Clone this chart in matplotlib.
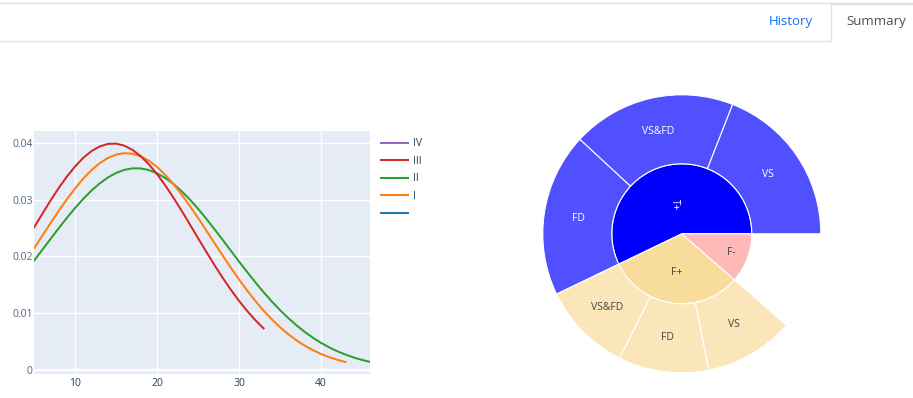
import matplotlib.pyplot as plt
from matplotlib.lines import Line2D
import numpy as np

plt.rcParams['font.family'] = ['Open Sans', 'DejaVu Sans']

# density curves
x_iii = [5, 6, 7, 8, 9, 10, 11, 12, 13, 14, 15, 16, 17, 18, 19, 20, 21, 22, 23, 24,
         25, 26, 27, 28, 29, 30, 31, 32, 33]
y_iii = [0.02517, 0.02757, 0.02989, 0.03209, 0.03411, 0.03589, 0.03740, 0.03857, 0.03939,
         0.03983, 0.03987, 0.03951, 0.03877, 0.03766, 0.03622, 0.03449, 0.03251, 0.03034,
         0.02804, 0.02565, 0.02323, 0.02084, 0.01850, 0.01626, 0.01415, 0.01219, 0.01040,
         0.00878, 0.00734]

x_ii = [5, 6, 7, 8, 9, 10, 11, 12, 13, 14, 15, 16, 17, 18, 19, 20, 21, 22, 23, 24, 25,
        26, 27, 28, 29, 30, 31, 32, 33, 34, 35, 36, 37, 38, 39, 40, 41, 42, 43, 44, 45, 46]
y_ii = [0.01931, 0.02122, 0.02313, 0.02501, 0.02684, 0.02857, 0.03018, 0.03163, 0.03288,
        0.03392, 0.03472, 0.03526, 0.03552, 0.03551, 0.03522, 0.03465, 0.03383, 0.03277,
        0.03149, 0.03003, 0.02840, 0.02666, 0.02482, 0.02294, 0.02102, 0.01912, 0.01726,
        0.01545, 0.01372, 0.01209, 0.01057, 0.00917, 0.00790, 0.00674, 0.00571, 0.00480,
        0.00400, 0.00331, 0.00272, 0.00221, 0.00179, 0.00144]

x_i = [5, 6, 7, 8, 9, 10, 11, 12, 13, 14, 15, 16, 17, 18, 19, 20, 21, 22, 23, 24, 25,
       26, 27, 28, 29, 30, 31, 32, 33, 34, 35, 36, 37, 38, 39, 40, 41, 42, 43]
y_i = [0.02149, 0.02370, 0.02591, 0.02806, 0.03011, 0.03202, 0.03375, 0.03523, 0.03645,
       0.03736, 0.03795, 0.03819, 0.03809, 0.03763, 0.03685, 0.03575, 0.03437, 0.03274,
       0.03090, 0.02890, 0.02678, 0.02459, 0.02237, 0.02017, 0.01802, 0.01595, 0.01399,
       0.01216, 0.01047, 0.00893, 0.00755, 0.00633, 0.00525, 0.00432, 0.00352, 0.00284,
       0.00227, 0.00180, 0.00142]

x_iv, y_iv = [], []
x_blank, y_blank = [], []

y_ticks = [0, 0.01, 0.02, 0.03, 0.04]
y_tick_labels = ["0", "0.01", "0.02", "0.03", "0.04"]
x_ticks = [10, 20, 30, 40]

# sunburst
inner_labels = ["T+", "F+", "F-"]
inner_values = [20, 11, 4]
outer_labels = ["VS", "VS&FD", "FD", "VS&FD", "FD", "VS", ""]
outer_values = [6.67, 6.67, 6.66, 3.67, 3.67, 3.66, 4]

fig = plt.figure(figsize=(9.13, 3.98), dpi=100)

# tab header
line_col = "#dee2e6"
fig.add_artist(Line2D([0, 1], [1 - 2.5 / 398, 1 - 2.5 / 398], color=line_col, lw=1))
fig.add_artist(Line2D([0, 831 / 913], [1 - 40.5 / 398, 1 - 40.5 / 398], color=line_col, lw=1))
fig.add_artist(Line2D([831 / 913, 831 / 913], [1 - 4 / 398, 1 - 40.5 / 398], color=line_col, lw=1))
fig.add_artist(Line2D([831 / 913, 1], [1 - 4 / 398, 1 - 4 / 398], color=line_col, lw=1))
fig.text(791 / 913, 1 - 21 / 398, "History", color="#0d6efd", fontsize=9.5,
         ha="center", va="center")
fig.text(876 / 913, 1 - 21 / 398, "Summary", color="#495057", fontsize=9.5,
         ha="center", va="center")

# line chart
ax = fig.add_axes([34.3 / 913, 24 / 398, 335.7 / 913, 243 / 398])
ax.set_facecolor("#E5ECF6")
ax.plot(x_iv, y_iv, color="#9467bd", lw=1.45, label="IV")
ax.plot(x_iii, y_iii, color="#d62728", lw=1.45, label="III", zorder=4)
ax.plot(x_ii, y_ii, color="#2ca02c", lw=1.45, label="II", zorder=3)
ax.plot(x_i, y_i, color="#ff7f0e", lw=1.45, label="I", zorder=3.5)
ax.plot(x_blank, y_blank, color="#1f77b4", lw=1.45, label=" ")
ax.set_xlim(5, 46)
ax.set_ylim(-0.0007, 0.0421)
ax.set_xticks(x_ticks)
ax.set_yticks(y_ticks)
ax.set_yticklabels(y_tick_labels)
ax.grid(True, color="white", lw=1)
ax.axhline(0, color="white", lw=1.6, zorder=1)
ax.set_axisbelow(True)
for s in ax.spines.values():
    s.set_visible(False)
ax.tick_params(length=0, labelsize=7.5, colors="#2a3f5f")
ax.tick_params(axis="y", pad=1.2, labelcolor="#506784")
ax.tick_params(axis="x", pad=3)

fig.legend(loc="upper left", bbox_to_anchor=(381 / 913, 1 - 138.5 / 398),
           frameon=False, fontsize=7.5, handlelength=2.6, handletextpad=0.5,
           labelspacing=0.62, borderpad=0, borderaxespad=0,
           labelcolor="#2a3f5f")

# sunburst chart
ax2 = fig.add_axes([536.8 / 913, 19.2 / 398, 290 / 913, 290 / 398])
r_in, r_out = 70, 139
inner_colors = ["#0000ff", "#f8dc9c", "#ffb8b8"]
outer_colors = ["#5050ff"] * 3 + ["#fae6b9"] * 3 + ["none"]
w_in, _ = ax2.pie(inner_values, radius=r_in, colors=inner_colors, startangle=0,
                  counterclock=True, wedgeprops=dict(edgecolor="white", linewidth=0.8))
w_out, _ = ax2.pie(outer_values, radius=r_out, colors=outer_colors, startangle=0,
                   counterclock=True,
                   wedgeprops=dict(width=r_out - r_in, edgecolor="white", linewidth=0.8))
w_out[-1].set_visible(False)
ax2.set_xlim(-145, 145)
ax2.set_ylim(-145, 145)
ax2.set_aspect("equal")
ax2.axis("off")

inner_r = [30, 39, 53]
for i, w in enumerate(w_in):
    a = np.deg2rad((w.theta1 + w.theta2) / 2)
    col = "white" if i == 0 else "#444444"
    rot = -88 if i == 0 else 0
    ax2.text(inner_r[i] * np.cos(a), inner_r[i] * np.sin(a), inner_labels[i],
             color=col, fontsize=7.5, ha="center", va="center", rotation=rot)
for i, w in enumerate(w_out[:-1]):
    a = np.deg2rad((w.theta1 + w.theta2) / 2)
    r = (r_in + r_out) / 2
    col = "white" if i < 3 else "#444444"
    ax2.text(r * np.cos(a), r * np.sin(a), outer_labels[i], color=col, fontsize=7.5,
             ha="center", va="center")

fig.savefig("out.png", dpi=100)
